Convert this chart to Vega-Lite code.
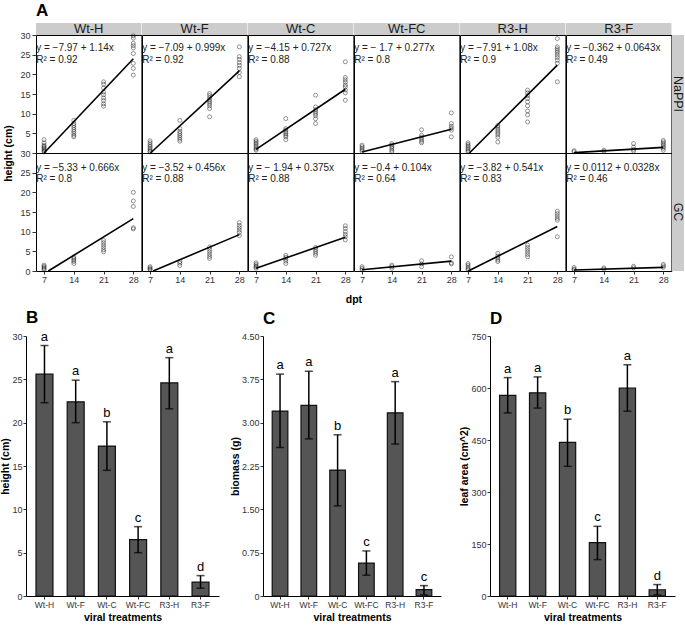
{
"$schema":"https://vega.github.io/schema/vega-lite/v6.json",
"padding":{"left":0,"top":2,"right":1,"bottom":1},
"config":{"font":"Liberation Sans","view":{"stroke":"#000","strokeWidth":1},
"axis":{"grid":false,"labelFont":"Liberation Sans","titleFont":"Liberation Sans","labelFontSize":9,"labelColor":"#333","tickColor":"#333","tickSize":3,"labelPadding":1,"domainColor":"#000","titleFontWeight":"bold","titleFontSize":10.5,"titleColor":"#000","titlePadding":1},
"title":{"font":"Liberation Sans","fontSize":17,"fontWeight":"bold","anchor":"start","frame":"group","color":"#000"}},
"datasets":{
"pts":[
{"t":"Wt-H","c":"NaPPI","d":7,"h":3.4},{"t":"Wt-H","c":"NaPPI","d":7,"h":2.6},{"t":"Wt-H","c":"NaPPI","d":7,"h":2.0},{"t":"Wt-H","c":"NaPPI","d":7,"h":1.7},{"t":"Wt-H","c":"NaPPI","d":7,"h":1.4},{"t":"Wt-H","c":"NaPPI","d":7,"h":1.1},{"t":"Wt-H","c":"NaPPI","d":7,"h":0.8},{"t":"Wt-H","c":"NaPPI","d":7,"h":0.5},{"t":"Wt-H","c":"NaPPI","d":7,"h":0.3},
{"t":"Wt-H","c":"NaPPI","d":14,"h":8.3},{"t":"Wt-H","c":"NaPPI","d":14,"h":7.5},{"t":"Wt-H","c":"NaPPI","d":14,"h":7.0},{"t":"Wt-H","c":"NaPPI","d":14,"h":6.5},{"t":"Wt-H","c":"NaPPI","d":14,"h":6.0},{"t":"Wt-H","c":"NaPPI","d":14,"h":5.5},{"t":"Wt-H","c":"NaPPI","d":14,"h":5.0},{"t":"Wt-H","c":"NaPPI","d":14,"h":4.5},{"t":"Wt-H","c":"NaPPI","d":14,"h":4.1},
{"t":"Wt-H","c":"NaPPI","d":21,"h":18.1},{"t":"Wt-H","c":"NaPPI","d":21,"h":17.5},{"t":"Wt-H","c":"NaPPI","d":21,"h":16.5},{"t":"Wt-H","c":"NaPPI","d":21,"h":15.5},{"t":"Wt-H","c":"NaPPI","d":21,"h":14.8},{"t":"Wt-H","c":"NaPPI","d":21,"h":14.0},{"t":"Wt-H","c":"NaPPI","d":21,"h":13.3},{"t":"Wt-H","c":"NaPPI","d":21,"h":12.5},{"t":"Wt-H","c":"NaPPI","d":21,"h":11.9},
{"t":"Wt-H","c":"NaPPI","d":28,"h":29.8},{"t":"Wt-H","c":"NaPPI","d":28,"h":29.2},{"t":"Wt-H","c":"NaPPI","d":28,"h":27.9},{"t":"Wt-H","c":"NaPPI","d":28,"h":27.3},{"t":"Wt-H","c":"NaPPI","d":28,"h":26.7},{"t":"Wt-H","c":"NaPPI","d":28,"h":25.3},{"t":"Wt-H","c":"NaPPI","d":28,"h":22.8},{"t":"Wt-H","c":"NaPPI","d":28,"h":21.5},{"t":"Wt-H","c":"NaPPI","d":28,"h":19.8},
{"t":"Wt-F","c":"NaPPI","d":7,"h":3.1},{"t":"Wt-F","c":"NaPPI","d":7,"h":2.6},{"t":"Wt-F","c":"NaPPI","d":7,"h":2.1},{"t":"Wt-F","c":"NaPPI","d":7,"h":1.7},{"t":"Wt-F","c":"NaPPI","d":7,"h":1.3},{"t":"Wt-F","c":"NaPPI","d":7,"h":0.9},{"t":"Wt-F","c":"NaPPI","d":7,"h":0.5},{"t":"Wt-F","c":"NaPPI","d":7,"h":0.3},
{"t":"Wt-F","c":"NaPPI","d":14,"h":8.3},{"t":"Wt-F","c":"NaPPI","d":14,"h":6.2},{"t":"Wt-F","c":"NaPPI","d":14,"h":5.5},{"t":"Wt-F","c":"NaPPI","d":14,"h":5.0},{"t":"Wt-F","c":"NaPPI","d":14,"h":4.5},{"t":"Wt-F","c":"NaPPI","d":14,"h":4.0},{"t":"Wt-F","c":"NaPPI","d":14,"h":3.5},{"t":"Wt-F","c":"NaPPI","d":14,"h":3.0},
{"t":"Wt-F","c":"NaPPI","d":21,"h":15.1},{"t":"Wt-F","c":"NaPPI","d":21,"h":14.6},{"t":"Wt-F","c":"NaPPI","d":21,"h":14.0},{"t":"Wt-F","c":"NaPPI","d":21,"h":13.5},{"t":"Wt-F","c":"NaPPI","d":21,"h":13.0},{"t":"Wt-F","c":"NaPPI","d":21,"h":12.5},{"t":"Wt-F","c":"NaPPI","d":21,"h":12.0},{"t":"Wt-F","c":"NaPPI","d":21,"h":11.3},{"t":"Wt-F","c":"NaPPI","d":21,"h":9.2},
{"t":"Wt-F","c":"NaPPI","d":28,"h":27.0},{"t":"Wt-F","c":"NaPPI","d":28,"h":24.5},{"t":"Wt-F","c":"NaPPI","d":28,"h":23.8},{"t":"Wt-F","c":"NaPPI","d":28,"h":23.0},{"t":"Wt-F","c":"NaPPI","d":28,"h":22.3},{"t":"Wt-F","c":"NaPPI","d":28,"h":21.5},{"t":"Wt-F","c":"NaPPI","d":28,"h":20.5},{"t":"Wt-F","c":"NaPPI","d":28,"h":19.4},
{"t":"Wt-C","c":"NaPPI","d":7,"h":3.4},{"t":"Wt-C","c":"NaPPI","d":7,"h":3.0},{"t":"Wt-C","c":"NaPPI","d":7,"h":2.6},{"t":"Wt-C","c":"NaPPI","d":7,"h":2.2},{"t":"Wt-C","c":"NaPPI","d":7,"h":1.8},{"t":"Wt-C","c":"NaPPI","d":7,"h":1.4},{"t":"Wt-C","c":"NaPPI","d":7,"h":1.0},{"t":"Wt-C","c":"NaPPI","d":7,"h":0.7},
{"t":"Wt-C","c":"NaPPI","d":14,"h":8.75},{"t":"Wt-C","c":"NaPPI","d":14,"h":6.2},{"t":"Wt-C","c":"NaPPI","d":14,"h":5.8},{"t":"Wt-C","c":"NaPPI","d":14,"h":5.3},{"t":"Wt-C","c":"NaPPI","d":14,"h":4.9},{"t":"Wt-C","c":"NaPPI","d":14,"h":4.5},{"t":"Wt-C","c":"NaPPI","d":14,"h":4.1},{"t":"Wt-C","c":"NaPPI","d":14,"h":3.4},
{"t":"Wt-C","c":"NaPPI","d":21,"h":14.7},{"t":"Wt-C","c":"NaPPI","d":21,"h":11.7},{"t":"Wt-C","c":"NaPPI","d":21,"h":11.0},{"t":"Wt-C","c":"NaPPI","d":21,"h":10.5},{"t":"Wt-C","c":"NaPPI","d":21,"h":10.0},{"t":"Wt-C","c":"NaPPI","d":21,"h":9.5},{"t":"Wt-C","c":"NaPPI","d":21,"h":8.7},{"t":"Wt-C","c":"NaPPI","d":21,"h":7.5},
{"t":"Wt-C","c":"NaPPI","d":28,"h":23.2},{"t":"Wt-C","c":"NaPPI","d":28,"h":19.2},{"t":"Wt-C","c":"NaPPI","d":28,"h":18.6},{"t":"Wt-C","c":"NaPPI","d":28,"h":18.0},{"t":"Wt-C","c":"NaPPI","d":28,"h":17.3},{"t":"Wt-C","c":"NaPPI","d":28,"h":16.8},{"t":"Wt-C","c":"NaPPI","d":28,"h":16.0},{"t":"Wt-C","c":"NaPPI","d":28,"h":15.3},{"t":"Wt-C","c":"NaPPI","d":28,"h":13.4},
{"t":"Wt-FC","c":"NaPPI","d":7,"h":2.0},{"t":"Wt-FC","c":"NaPPI","d":7,"h":1.6},{"t":"Wt-FC","c":"NaPPI","d":7,"h":1.2},{"t":"Wt-FC","c":"NaPPI","d":7,"h":0.8},{"t":"Wt-FC","c":"NaPPI","d":7,"h":0.4},
{"t":"Wt-FC","c":"NaPPI","d":14,"h":2.4},{"t":"Wt-FC","c":"NaPPI","d":14,"h":2.0},{"t":"Wt-FC","c":"NaPPI","d":14,"h":1.6},{"t":"Wt-FC","c":"NaPPI","d":14,"h":1.2},{"t":"Wt-FC","c":"NaPPI","d":14,"h":0.7},{"t":"Wt-FC","c":"NaPPI","d":14,"h":0.3},
{"t":"Wt-FC","c":"NaPPI","d":21,"h":5.9},{"t":"Wt-FC","c":"NaPPI","d":21,"h":4.5},{"t":"Wt-FC","c":"NaPPI","d":21,"h":4.0},{"t":"Wt-FC","c":"NaPPI","d":21,"h":3.5},{"t":"Wt-FC","c":"NaPPI","d":21,"h":3.0},{"t":"Wt-FC","c":"NaPPI","d":21,"h":2.6},
{"t":"Wt-FC","c":"NaPPI","d":28,"h":10.2},{"t":"Wt-FC","c":"NaPPI","d":28,"h":7.5},{"t":"Wt-FC","c":"NaPPI","d":28,"h":6.8},{"t":"Wt-FC","c":"NaPPI","d":28,"h":6.3},{"t":"Wt-FC","c":"NaPPI","d":28,"h":5.8},{"t":"Wt-FC","c":"NaPPI","d":28,"h":4.1},
{"t":"R3-H","c":"NaPPI","d":7,"h":2.6},{"t":"R3-H","c":"NaPPI","d":7,"h":2.2},{"t":"R3-H","c":"NaPPI","d":7,"h":1.8},{"t":"R3-H","c":"NaPPI","d":7,"h":1.4},{"t":"R3-H","c":"NaPPI","d":7,"h":1.0},{"t":"R3-H","c":"NaPPI","d":7,"h":0.6},{"t":"R3-H","c":"NaPPI","d":7,"h":0.3},
{"t":"R3-H","c":"NaPPI","d":14,"h":7.0},{"t":"R3-H","c":"NaPPI","d":14,"h":6.6},{"t":"R3-H","c":"NaPPI","d":14,"h":6.1},{"t":"R3-H","c":"NaPPI","d":14,"h":5.6},{"t":"R3-H","c":"NaPPI","d":14,"h":5.1},{"t":"R3-H","c":"NaPPI","d":14,"h":4.6},{"t":"R3-H","c":"NaPPI","d":14,"h":4.0},{"t":"R3-H","c":"NaPPI","d":14,"h":2.8},
{"t":"R3-H","c":"NaPPI","d":21,"h":16.0},{"t":"R3-H","c":"NaPPI","d":21,"h":15.3},{"t":"R3-H","c":"NaPPI","d":21,"h":14.6},{"t":"R3-H","c":"NaPPI","d":21,"h":13.9},{"t":"R3-H","c":"NaPPI","d":21,"h":13.0},{"t":"R3-H","c":"NaPPI","d":21,"h":12.0},{"t":"R3-H","c":"NaPPI","d":21,"h":10.7},{"t":"R3-H","c":"NaPPI","d":21,"h":9.7},{"t":"R3-H","c":"NaPPI","d":21,"h":7.9},
{"t":"R3-H","c":"NaPPI","d":28,"h":29.1},{"t":"R3-H","c":"NaPPI","d":28,"h":27.0},{"t":"R3-H","c":"NaPPI","d":28,"h":26.5},{"t":"R3-H","c":"NaPPI","d":28,"h":26.0},{"t":"R3-H","c":"NaPPI","d":28,"h":25.5},{"t":"R3-H","c":"NaPPI","d":28,"h":24.9},{"t":"R3-H","c":"NaPPI","d":28,"h":24.3},{"t":"R3-H","c":"NaPPI","d":28,"h":23.6},{"t":"R3-H","c":"NaPPI","d":28,"h":22.8},{"t":"R3-H","c":"NaPPI","d":28,"h":18.1},
{"t":"R3-F","c":"NaPPI","d":7,"h":0.6},{"t":"R3-F","c":"NaPPI","d":7,"h":0.3},
{"t":"R3-F","c":"NaPPI","d":14,"h":0.7},{"t":"R3-F","c":"NaPPI","d":14,"h":0.4},
{"t":"R3-F","c":"NaPPI","d":21,"h":2.4},{"t":"R3-F","c":"NaPPI","d":21,"h":1.5},{"t":"R3-F","c":"NaPPI","d":21,"h":0.9},{"t":"R3-F","c":"NaPPI","d":21,"h":0.5},
{"t":"R3-F","c":"NaPPI","d":28,"h":3.2},{"t":"R3-F","c":"NaPPI","d":28,"h":2.8},{"t":"R3-F","c":"NaPPI","d":28,"h":2.4},{"t":"R3-F","c":"NaPPI","d":28,"h":2.0},{"t":"R3-F","c":"NaPPI","d":28,"h":1.6},{"t":"R3-F","c":"NaPPI","d":28,"h":1.2},{"t":"R3-F","c":"NaPPI","d":28,"h":0.7},
{"t":"Wt-H","c":"GC","d":7,"h":1.5},{"t":"Wt-H","c":"GC","d":7,"h":1.2},{"t":"Wt-H","c":"GC","d":7,"h":0.9},{"t":"Wt-H","c":"GC","d":7,"h":0.6},{"t":"Wt-H","c":"GC","d":7,"h":0.3},
{"t":"Wt-H","c":"GC","d":14,"h":3.6},{"t":"Wt-H","c":"GC","d":14,"h":3.2},{"t":"Wt-H","c":"GC","d":14,"h":2.8},{"t":"Wt-H","c":"GC","d":14,"h":2.4},{"t":"Wt-H","c":"GC","d":14,"h":1.9},
{"t":"Wt-H","c":"GC","d":21,"h":7.8},{"t":"Wt-H","c":"GC","d":21,"h":7.2},{"t":"Wt-H","c":"GC","d":21,"h":6.6},{"t":"Wt-H","c":"GC","d":21,"h":6.0},{"t":"Wt-H","c":"GC","d":21,"h":5.4},{"t":"Wt-H","c":"GC","d":21,"h":4.9},
{"t":"Wt-H","c":"GC","d":28,"h":20.0},{"t":"Wt-H","c":"GC","d":28,"h":17.8},{"t":"Wt-H","c":"GC","d":28,"h":16.4},{"t":"Wt-H","c":"GC","d":28,"h":11.0},{"t":"Wt-H","c":"GC","d":28,"h":10.7},
{"t":"Wt-F","c":"GC","d":7,"h":1.1},{"t":"Wt-F","c":"GC","d":7,"h":0.8},{"t":"Wt-F","c":"GC","d":7,"h":0.5},{"t":"Wt-F","c":"GC","d":7,"h":0.3},
{"t":"Wt-F","c":"GC","d":14,"h":2.4},{"t":"Wt-F","c":"GC","d":14,"h":2.0},{"t":"Wt-F","c":"GC","d":14,"h":1.4},
{"t":"Wt-F","c":"GC","d":21,"h":6.1},{"t":"Wt-F","c":"GC","d":21,"h":5.5},{"t":"Wt-F","c":"GC","d":21,"h":4.9},{"t":"Wt-F","c":"GC","d":21,"h":4.3},{"t":"Wt-F","c":"GC","d":21,"h":3.7},{"t":"Wt-F","c":"GC","d":21,"h":3.2},
{"t":"Wt-F","c":"GC","d":28,"h":12.3},{"t":"Wt-F","c":"GC","d":28,"h":11.6},{"t":"Wt-F","c":"GC","d":28,"h":11.0},{"t":"Wt-F","c":"GC","d":28,"h":10.4},{"t":"Wt-F","c":"GC","d":28,"h":9.8},{"t":"Wt-F","c":"GC","d":28,"h":9.0},
{"t":"Wt-C","c":"GC","d":7,"h":2.1},{"t":"Wt-C","c":"GC","d":7,"h":1.7},{"t":"Wt-C","c":"GC","d":7,"h":1.3},{"t":"Wt-C","c":"GC","d":7,"h":1.0},{"t":"Wt-C","c":"GC","d":7,"h":0.7},
{"t":"Wt-C","c":"GC","d":14,"h":4.0},{"t":"Wt-C","c":"GC","d":14,"h":3.5},{"t":"Wt-C","c":"GC","d":14,"h":3.0},{"t":"Wt-C","c":"GC","d":14,"h":2.5},{"t":"Wt-C","c":"GC","d":14,"h":1.9},
{"t":"Wt-C","c":"GC","d":21,"h":6.0},{"t":"Wt-C","c":"GC","d":21,"h":5.5},{"t":"Wt-C","c":"GC","d":21,"h":5.0},{"t":"Wt-C","c":"GC","d":21,"h":4.5},{"t":"Wt-C","c":"GC","d":21,"h":4.0},
{"t":"Wt-C","c":"GC","d":28,"h":11.5},{"t":"Wt-C","c":"GC","d":28,"h":10.8},{"t":"Wt-C","c":"GC","d":28,"h":10.0},{"t":"Wt-C","c":"GC","d":28,"h":9.3},{"t":"Wt-C","c":"GC","d":28,"h":8.7},{"t":"Wt-C","c":"GC","d":28,"h":7.9},
{"t":"Wt-FC","c":"GC","d":7,"h":1.1},{"t":"Wt-FC","c":"GC","d":7,"h":0.7},{"t":"Wt-FC","c":"GC","d":7,"h":0.3},
{"t":"Wt-FC","c":"GC","d":14,"h":1.5},{"t":"Wt-FC","c":"GC","d":14,"h":1.1},{"t":"Wt-FC","c":"GC","d":14,"h":0.7},
{"t":"Wt-FC","c":"GC","d":21,"h":2.6},{"t":"Wt-FC","c":"GC","d":21,"h":1.8},{"t":"Wt-FC","c":"GC","d":21,"h":1.1},
{"t":"Wt-FC","c":"GC","d":28,"h":3.6},{"t":"Wt-FC","c":"GC","d":28,"h":2.1},{"t":"Wt-FC","c":"GC","d":28,"h":1.8},
{"t":"R3-H","c":"GC","d":7,"h":1.9},{"t":"R3-H","c":"GC","d":7,"h":1.5},{"t":"R3-H","c":"GC","d":7,"h":1.0},{"t":"R3-H","c":"GC","d":7,"h":0.6},{"t":"R3-H","c":"GC","d":7,"h":0.3},
{"t":"R3-H","c":"GC","d":14,"h":4.5},{"t":"R3-H","c":"GC","d":14,"h":3.8},{"t":"R3-H","c":"GC","d":14,"h":3.3},{"t":"R3-H","c":"GC","d":14,"h":2.8},{"t":"R3-H","c":"GC","d":14,"h":2.4},
{"t":"R3-H","c":"GC","d":21,"h":6.6},{"t":"R3-H","c":"GC","d":21,"h":6.0},{"t":"R3-H","c":"GC","d":21,"h":5.4},{"t":"R3-H","c":"GC","d":21,"h":4.8},{"t":"R3-H","c":"GC","d":21,"h":4.2},{"t":"R3-H","c":"GC","d":21,"h":3.6},
{"t":"R3-H","c":"GC","d":28,"h":15.2},{"t":"R3-H","c":"GC","d":28,"h":14.6},{"t":"R3-H","c":"GC","d":28,"h":14.0},{"t":"R3-H","c":"GC","d":28,"h":13.4},{"t":"R3-H","c":"GC","d":28,"h":12.9},{"t":"R3-H","c":"GC","d":28,"h":8.7},
{"t":"R3-F","c":"GC","d":7,"h":0.9},{"t":"R3-F","c":"GC","d":7,"h":0.5},{"t":"R3-F","c":"GC","d":7,"h":0.3},
{"t":"R3-F","c":"GC","d":14,"h":0.8},{"t":"R3-F","c":"GC","d":14,"h":0.5},
{"t":"R3-F","c":"GC","d":21,"h":1.2},{"t":"R3-F","c":"GC","d":21,"h":0.8},
{"t":"R3-F","c":"GC","d":28,"h":1.7},{"t":"R3-F","c":"GC","d":28,"h":1.3},{"t":"R3-F","c":"GC","d":28,"h":0.9}
],
"fit":[
{"t":"Wt-H","c":"NaPPI","d":7,"h":0.01},{"t":"Wt-H","c":"NaPPI","d":28,"h":23.95},
{"t":"Wt-F","c":"NaPPI","d":7.1,"h":0},{"t":"Wt-F","c":"NaPPI","d":28,"h":20.88},
{"t":"Wt-C","c":"NaPPI","d":7,"h":0.94},{"t":"Wt-C","c":"NaPPI","d":28,"h":16.21},
{"t":"Wt-FC","c":"NaPPI","d":7,"h":0.24},{"t":"Wt-FC","c":"NaPPI","d":28,"h":6.06},
{"t":"R3-H","c":"NaPPI","d":7.32,"h":0},{"t":"R3-H","c":"NaPPI","d":28,"h":22.33},
{"t":"R3-F","c":"NaPPI","d":7,"h":0.09},{"t":"R3-F","c":"NaPPI","d":28,"h":1.44},
{"t":"Wt-H","c":"GC","d":8.0,"h":0},{"t":"Wt-H","c":"GC","d":28,"h":13.32},
{"t":"Wt-F","c":"GC","d":7.72,"h":0},{"t":"Wt-F","c":"GC","d":28,"h":9.25},
{"t":"Wt-C","c":"GC","d":7,"h":0.69},{"t":"Wt-C","c":"GC","d":28,"h":8.56},
{"t":"Wt-FC","c":"GC","d":7,"h":0.33},{"t":"Wt-FC","c":"GC","d":28,"h":2.51},
{"t":"R3-H","c":"GC","d":7.06,"h":0},{"t":"R3-H","c":"GC","d":28,"h":11.33},
{"t":"R3-F","c":"GC","d":7,"h":0.24},{"t":"R3-F","c":"GC","d":28,"h":0.93}
],
"eqs":[
{"t":"Wt-H","c":"NaPPI","lab":"y = −7.97 + 1.14x\nR² = 0.92"},
{"t":"Wt-F","c":"NaPPI","lab":"y = −7.09 + 0.999x\nR² = 0.92"},
{"t":"Wt-C","c":"NaPPI","lab":"y = −4.15 + 0.727x\nR² = 0.88"},
{"t":"Wt-FC","c":"NaPPI","lab":"y = − 1.7 + 0.277x\nR² = 0.8"},
{"t":"R3-H","c":"NaPPI","lab":"y = −7.91 + 1.08x\nR² = 0.9"},
{"t":"R3-F","c":"NaPPI","lab":"y = −0.362 + 0.0643x\nR² = 0.49"},
{"t":"Wt-H","c":"GC","lab":"y = −5.33 + 0.666x\nR² = 0.8"},
{"t":"Wt-F","c":"GC","lab":"y = −3.52 + 0.456x\nR² = 0.88"},
{"t":"Wt-C","c":"GC","lab":"y = − 1.94 + 0.375x\nR² = 0.88"},
{"t":"Wt-FC","c":"GC","lab":"y = −0.4 + 0.104x\nR² = 0.64"},
{"t":"R3-H","c":"GC","lab":"y = −3.82 + 0.541x\nR² = 0.83"},
{"t":"R3-F","c":"GC","lab":"y = 0.0112 + 0.0328x\nR² = 0.46"}
],
"bars":[
{"m":"height","t":"Wt-H","v":25.6,"lo":22.3,"hi":28.9,"g":"a"},
{"m":"height","t":"Wt-F","v":22.4,"lo":20.0,"hi":24.9,"g":"a"},
{"m":"height","t":"Wt-C","v":17.3,"lo":14.5,"hi":20.1,"g":"b"},
{"m":"height","t":"Wt-FC","v":6.5,"lo":5.0,"hi":8.0,"g":"c"},
{"m":"height","t":"R3-H","v":24.6,"lo":21.6,"hi":27.5,"g":"a"},
{"m":"height","t":"R3-F","v":1.6,"lo":0.9,"hi":2.35,"g":"d"},
{"m":"biomass","t":"Wt-H","v":3.20,"lo":2.57,"hi":3.84,"g":"a"},
{"m":"biomass","t":"Wt-F","v":3.30,"lo":2.72,"hi":3.89,"g":"a"},
{"m":"biomass","t":"Wt-C","v":2.18,"lo":1.56,"hi":2.79,"g":"b"},
{"m":"biomass","t":"Wt-FC","v":0.57,"lo":0.36,"hi":0.78,"g":"c"},
{"m":"biomass","t":"R3-H","v":3.17,"lo":2.63,"hi":3.71,"g":"a"},
{"m":"biomass","t":"R3-F","v":0.11,"lo":0.02,"hi":0.18,"g":"c"},
{"m":"leaf","t":"Wt-H","v":579,"lo":528,"hi":630,"g":"a"},
{"m":"leaf","t":"Wt-F","v":586,"lo":542,"hi":632,"g":"a"},
{"m":"leaf","t":"Wt-C","v":443,"lo":374,"hi":510,"g":"b"},
{"m":"leaf","t":"Wt-FC","v":154,"lo":105,"hi":201,"g":"c"},
{"m":"leaf","t":"R3-H","v":600,"lo":533,"hi":667,"g":"a"},
{"m":"leaf","t":"R3-F","v":18,"lo":3,"hi":33,"g":"d"}
]
},
"vconcat":[
{
"title":{"text":"A","offset":3,"dx":10},
"columns":8,"spacing":0,"bounds":"flush","align":"each",
"concat":[
{"width":10,"height":12,"view":{"stroke":null},"data":{"values":[{"t":""}]},"mark":{"type":"text"},"encoding":{"text":{"field":"t"}}},
{"width":105.4,"height":12,"view":{"fill":"#cccccc","stroke":null},"data":{"values":[{"t":"Wt-H"}]},"mark":{"type":"text","fontSize":13,"color":"#1a1a1a","baseline":"middle"},"encoding":{"text":{"field":"t"}}},
{"width":105.4,"height":12,"view":{"fill":"#cccccc","stroke":null},"data":{"values":[{"t":"Wt-F"}]},"mark":{"type":"text","fontSize":13,"color":"#1a1a1a","baseline":"middle"},"encoding":{"text":{"field":"t"}}},
{"width":105.4,"height":12,"view":{"fill":"#cccccc","stroke":null},"data":{"values":[{"t":"Wt-C"}]},"mark":{"type":"text","fontSize":13,"color":"#1a1a1a","baseline":"middle"},"encoding":{"text":{"field":"t"}}},
{"width":105.4,"height":12,"view":{"fill":"#cccccc","stroke":null},"data":{"values":[{"t":"Wt-FC"}]},"mark":{"type":"text","fontSize":13,"color":"#1a1a1a","baseline":"middle"},"encoding":{"text":{"field":"t"}}},
{"width":105.4,"height":12,"view":{"fill":"#cccccc","stroke":null},"data":{"values":[{"t":"R3-H"}]},"mark":{"type":"text","fontSize":13,"color":"#1a1a1a","baseline":"middle"},"encoding":{"text":{"field":"t"}}},
{"width":105.4,"height":12,"view":{"fill":"#cccccc","stroke":null},"data":{"values":[{"t":"R3-F"}]},"mark":{"type":"text","fontSize":13,"color":"#1a1a1a","baseline":"middle"},"encoding":{"text":{"field":"t"}}},
{"width":12,"height":12,"view":{"stroke":null},"data":{"values":[{"t":""}]},"mark":{"type":"text"},"encoding":{"text":{"field":"t"}}},

{"width":10,"height":118,"view":{"stroke":null},"data":{"values":[{"t":""}]},"mark":{"type":"text"},"encoding":{"text":{"field":"t"}}},
{"width":105.4,"height":118,
"layer":[
{"data":{"name":"pts"},"transform":[{"filter":"datum.t=='Wt-H'&&datum.c=='NaPPI'"}],"mark":{"type":"point","size":16,"color":"#000","strokeWidth":0.6},
"encoding":{"x":{"field":"d","type":"quantitative","scale":{"domain":[5.1,29.9],"nice":false,"zero":false},"axis":null},"y":{"field":"h","type":"quantitative","scale":{"domain":[0,30],"nice":false},"axis":{"values":[5,10,15,20,25,30],"domain":false,"title":"height (cm)","titleY":118,"tickSize":4,"labelPadding":2,"titlePadding":6}}}},
{"data":{"name":"fit"},"transform":[{"filter":"datum.t=='Wt-H'&&datum.c=='NaPPI'"}],"mark":{"type":"line","color":"#000","strokeWidth":1.6},
"encoding":{"x":{"field":"d","type":"quantitative","axis":null},"y":{"field":"h","type":"quantitative","axis":{"values":[5,10,15,20,25,30],"domain":false,"title":"height (cm)","titleY":118,"tickSize":4,"labelPadding":2,"titlePadding":6}}}},
{"data":{"name":"eqs"},"transform":[{"filter":"datum.t=='Wt-H'&&datum.c=='NaPPI'"}],"mark":{"type":"text","align":"left","baseline":"top","lineBreak":"\n","fontSize":10,"lineHeight":11.5,"color":"#222"},
"encoding":{"x":{"datum":5.15,"type":"quantitative","axis":null},"y":{"datum":27.9,"type":"quantitative","axis":{"values":[5,10,15,20,25,30],"domain":false,"title":"height (cm)","titleY":118,"tickSize":4,"labelPadding":2,"titlePadding":6}},"text":{"field":"lab","type":"nominal"}}}]},
{"width":105.4,"height":118,
"layer":[
{"data":{"name":"pts"},"transform":[{"filter":"datum.t=='Wt-F'&&datum.c=='NaPPI'"}],"mark":{"type":"point","size":16,"color":"#000","strokeWidth":0.6},
"encoding":{"x":{"field":"d","type":"quantitative","scale":{"domain":[5.1,29.9],"nice":false,"zero":false},"axis":null},"y":{"field":"h","type":"quantitative","scale":{"domain":[0,30],"nice":false},"axis":null}}},
{"data":{"name":"fit"},"transform":[{"filter":"datum.t=='Wt-F'&&datum.c=='NaPPI'"}],"mark":{"type":"line","color":"#000","strokeWidth":1.6},
"encoding":{"x":{"field":"d","type":"quantitative","axis":null},"y":{"field":"h","type":"quantitative","axis":null}}},
{"data":{"name":"eqs"},"transform":[{"filter":"datum.t=='Wt-F'&&datum.c=='NaPPI'"}],"mark":{"type":"text","align":"left","baseline":"top","lineBreak":"\n","fontSize":10,"lineHeight":11.5,"color":"#222"},
"encoding":{"x":{"datum":5.15,"type":"quantitative","axis":null},"y":{"datum":27.9,"type":"quantitative","axis":null},"text":{"field":"lab","type":"nominal"}}}]},
{"width":105.4,"height":118,
"layer":[
{"data":{"name":"pts"},"transform":[{"filter":"datum.t=='Wt-C'&&datum.c=='NaPPI'"}],"mark":{"type":"point","size":16,"color":"#000","strokeWidth":0.6},
"encoding":{"x":{"field":"d","type":"quantitative","scale":{"domain":[5.1,29.9],"nice":false,"zero":false},"axis":null},"y":{"field":"h","type":"quantitative","scale":{"domain":[0,30],"nice":false},"axis":null}}},
{"data":{"name":"fit"},"transform":[{"filter":"datum.t=='Wt-C'&&datum.c=='NaPPI'"}],"mark":{"type":"line","color":"#000","strokeWidth":1.6},
"encoding":{"x":{"field":"d","type":"quantitative","axis":null},"y":{"field":"h","type":"quantitative","axis":null}}},
{"data":{"name":"eqs"},"transform":[{"filter":"datum.t=='Wt-C'&&datum.c=='NaPPI'"}],"mark":{"type":"text","align":"left","baseline":"top","lineBreak":"\n","fontSize":10,"lineHeight":11.5,"color":"#222"},
"encoding":{"x":{"datum":5.15,"type":"quantitative","axis":null},"y":{"datum":27.9,"type":"quantitative","axis":null},"text":{"field":"lab","type":"nominal"}}}]},
{"width":105.4,"height":118,
"layer":[
{"data":{"name":"pts"},"transform":[{"filter":"datum.t=='Wt-FC'&&datum.c=='NaPPI'"}],"mark":{"type":"point","size":16,"color":"#000","strokeWidth":0.6},
"encoding":{"x":{"field":"d","type":"quantitative","scale":{"domain":[5.1,29.9],"nice":false,"zero":false},"axis":null},"y":{"field":"h","type":"quantitative","scale":{"domain":[0,30],"nice":false},"axis":null}}},
{"data":{"name":"fit"},"transform":[{"filter":"datum.t=='Wt-FC'&&datum.c=='NaPPI'"}],"mark":{"type":"line","color":"#000","strokeWidth":1.6},
"encoding":{"x":{"field":"d","type":"quantitative","axis":null},"y":{"field":"h","type":"quantitative","axis":null}}},
{"data":{"name":"eqs"},"transform":[{"filter":"datum.t=='Wt-FC'&&datum.c=='NaPPI'"}],"mark":{"type":"text","align":"left","baseline":"top","lineBreak":"\n","fontSize":10,"lineHeight":11.5,"color":"#222"},
"encoding":{"x":{"datum":5.15,"type":"quantitative","axis":null},"y":{"datum":27.9,"type":"quantitative","axis":null},"text":{"field":"lab","type":"nominal"}}}]},
{"width":105.4,"height":118,
"layer":[
{"data":{"name":"pts"},"transform":[{"filter":"datum.t=='R3-H'&&datum.c=='NaPPI'"}],"mark":{"type":"point","size":16,"color":"#000","strokeWidth":0.6},
"encoding":{"x":{"field":"d","type":"quantitative","scale":{"domain":[5.1,29.9],"nice":false,"zero":false},"axis":null},"y":{"field":"h","type":"quantitative","scale":{"domain":[0,30],"nice":false},"axis":null}}},
{"data":{"name":"fit"},"transform":[{"filter":"datum.t=='R3-H'&&datum.c=='NaPPI'"}],"mark":{"type":"line","color":"#000","strokeWidth":1.6},
"encoding":{"x":{"field":"d","type":"quantitative","axis":null},"y":{"field":"h","type":"quantitative","axis":null}}},
{"data":{"name":"eqs"},"transform":[{"filter":"datum.t=='R3-H'&&datum.c=='NaPPI'"}],"mark":{"type":"text","align":"left","baseline":"top","lineBreak":"\n","fontSize":10,"lineHeight":11.5,"color":"#222"},
"encoding":{"x":{"datum":5.15,"type":"quantitative","axis":null},"y":{"datum":27.9,"type":"quantitative","axis":null},"text":{"field":"lab","type":"nominal"}}}]},
{"width":105.4,"height":118,
"layer":[
{"data":{"name":"pts"},"transform":[{"filter":"datum.t=='R3-F'&&datum.c=='NaPPI'"}],"mark":{"type":"point","size":16,"color":"#000","strokeWidth":0.6},
"encoding":{"x":{"field":"d","type":"quantitative","scale":{"domain":[5.1,29.9],"nice":false,"zero":false},"axis":null},"y":{"field":"h","type":"quantitative","scale":{"domain":[0,30],"nice":false},"axis":null}}},
{"data":{"name":"fit"},"transform":[{"filter":"datum.t=='R3-F'&&datum.c=='NaPPI'"}],"mark":{"type":"line","color":"#000","strokeWidth":1.6},
"encoding":{"x":{"field":"d","type":"quantitative","axis":null},"y":{"field":"h","type":"quantitative","axis":null}}},
{"data":{"name":"eqs"},"transform":[{"filter":"datum.t=='R3-F'&&datum.c=='NaPPI'"}],"mark":{"type":"text","align":"left","baseline":"top","lineBreak":"\n","fontSize":10,"lineHeight":11.5,"color":"#222"},
"encoding":{"x":{"datum":5.15,"type":"quantitative","axis":null},"y":{"datum":27.9,"type":"quantitative","axis":null},"text":{"field":"lab","type":"nominal"}}}]},
{"width":12,"height":118,"view":{"fill":"#cccccc","stroke":null},"data":{"values":[{"c":"NaPPI"}]},"mark":{"type":"text","fontSize":12.5,"angle":90,"color":"#1a1a1a","baseline":"middle"},"encoding":{"text":{"field":"c"}}},

{"width":10,"height":118,"view":{"stroke":null},"data":{"values":[{"t":""}]},"mark":{"type":"text"},"encoding":{"text":{"field":"t"}}},
{"width":105.4,"height":118,
"layer":[
{"data":{"name":"pts"},"transform":[{"filter":"datum.t=='Wt-H'&&datum.c=='GC'"}],"mark":{"type":"point","size":16,"color":"#000","strokeWidth":0.6},
"encoding":{"x":{"field":"d","type":"quantitative","scale":{"domain":[5.1,29.9],"nice":false,"zero":false},"axis":{"values":[7,14,21,28],"domain":false,"title":null}},"y":{"field":"h","type":"quantitative","scale":{"domain":[0,30],"nice":false},"axis":{"values":[0,5,10,15,20,25,30],"domain":false,"title":null,"tickSize":4,"labelPadding":2}}}},
{"data":{"name":"fit"},"transform":[{"filter":"datum.t=='Wt-H'&&datum.c=='GC'"}],"mark":{"type":"line","color":"#000","strokeWidth":1.6},
"encoding":{"x":{"field":"d","type":"quantitative","axis":{"values":[7,14,21,28],"domain":false,"title":null}},"y":{"field":"h","type":"quantitative","axis":{"values":[0,5,10,15,20,25,30],"domain":false,"title":null,"tickSize":4,"labelPadding":2}}}},
{"data":{"name":"eqs"},"transform":[{"filter":"datum.t=='Wt-H'&&datum.c=='GC'"}],"mark":{"type":"text","align":"left","baseline":"top","lineBreak":"\n","fontSize":10,"lineHeight":11.5,"color":"#222"},
"encoding":{"x":{"datum":5.15,"type":"quantitative","axis":{"values":[7,14,21,28],"domain":false,"title":null}},"y":{"datum":27.5,"type":"quantitative","axis":{"values":[0,5,10,15,20,25,30],"domain":false,"title":null,"tickSize":4,"labelPadding":2}},"text":{"field":"lab","type":"nominal"}}}]},
{"width":105.4,"height":118,
"layer":[
{"data":{"name":"pts"},"transform":[{"filter":"datum.t=='Wt-F'&&datum.c=='GC'"}],"mark":{"type":"point","size":16,"color":"#000","strokeWidth":0.6},
"encoding":{"x":{"field":"d","type":"quantitative","scale":{"domain":[5.1,29.9],"nice":false,"zero":false},"axis":{"values":[7,14,21,28],"domain":false,"title":null}},"y":{"field":"h","type":"quantitative","scale":{"domain":[0,30],"nice":false},"axis":null}}},
{"data":{"name":"fit"},"transform":[{"filter":"datum.t=='Wt-F'&&datum.c=='GC'"}],"mark":{"type":"line","color":"#000","strokeWidth":1.6},
"encoding":{"x":{"field":"d","type":"quantitative","axis":{"values":[7,14,21,28],"domain":false,"title":null}},"y":{"field":"h","type":"quantitative","axis":null}}},
{"data":{"name":"eqs"},"transform":[{"filter":"datum.t=='Wt-F'&&datum.c=='GC'"}],"mark":{"type":"text","align":"left","baseline":"top","lineBreak":"\n","fontSize":10,"lineHeight":11.5,"color":"#222"},
"encoding":{"x":{"datum":5.15,"type":"quantitative","axis":{"values":[7,14,21,28],"domain":false,"title":null}},"y":{"datum":27.5,"type":"quantitative","axis":null},"text":{"field":"lab","type":"nominal"}}}]},
{"width":105.4,"height":118,
"layer":[
{"data":{"name":"pts"},"transform":[{"filter":"datum.t=='Wt-C'&&datum.c=='GC'"}],"mark":{"type":"point","size":16,"color":"#000","strokeWidth":0.6},
"encoding":{"x":{"field":"d","type":"quantitative","scale":{"domain":[5.1,29.9],"nice":false,"zero":false},"axis":{"values":[7,14,21,28],"domain":false,"title":"dpt","titleX":105.4,"titlePadding":10}},"y":{"field":"h","type":"quantitative","scale":{"domain":[0,30],"nice":false},"axis":null}}},
{"data":{"name":"fit"},"transform":[{"filter":"datum.t=='Wt-C'&&datum.c=='GC'"}],"mark":{"type":"line","color":"#000","strokeWidth":1.6},
"encoding":{"x":{"field":"d","type":"quantitative","axis":{"values":[7,14,21,28],"domain":false,"title":"dpt","titleX":105.4,"titlePadding":10}},"y":{"field":"h","type":"quantitative","axis":null}}},
{"data":{"name":"eqs"},"transform":[{"filter":"datum.t=='Wt-C'&&datum.c=='GC'"}],"mark":{"type":"text","align":"left","baseline":"top","lineBreak":"\n","fontSize":10,"lineHeight":11.5,"color":"#222"},
"encoding":{"x":{"datum":5.15,"type":"quantitative","axis":{"values":[7,14,21,28],"domain":false,"title":"dpt","titleX":105.4,"titlePadding":10}},"y":{"datum":27.5,"type":"quantitative","axis":null},"text":{"field":"lab","type":"nominal"}}}]},
{"width":105.4,"height":118,
"layer":[
{"data":{"name":"pts"},"transform":[{"filter":"datum.t=='Wt-FC'&&datum.c=='GC'"}],"mark":{"type":"point","size":16,"color":"#000","strokeWidth":0.6},
"encoding":{"x":{"field":"d","type":"quantitative","scale":{"domain":[5.1,29.9],"nice":false,"zero":false},"axis":{"values":[7,14,21,28],"domain":false,"title":null}},"y":{"field":"h","type":"quantitative","scale":{"domain":[0,30],"nice":false},"axis":null}}},
{"data":{"name":"fit"},"transform":[{"filter":"datum.t=='Wt-FC'&&datum.c=='GC'"}],"mark":{"type":"line","color":"#000","strokeWidth":1.6},
"encoding":{"x":{"field":"d","type":"quantitative","axis":{"values":[7,14,21,28],"domain":false,"title":null}},"y":{"field":"h","type":"quantitative","axis":null}}},
{"data":{"name":"eqs"},"transform":[{"filter":"datum.t=='Wt-FC'&&datum.c=='GC'"}],"mark":{"type":"text","align":"left","baseline":"top","lineBreak":"\n","fontSize":10,"lineHeight":11.5,"color":"#222"},
"encoding":{"x":{"datum":5.15,"type":"quantitative","axis":{"values":[7,14,21,28],"domain":false,"title":null}},"y":{"datum":27.5,"type":"quantitative","axis":null},"text":{"field":"lab","type":"nominal"}}}]},
{"width":105.4,"height":118,
"layer":[
{"data":{"name":"pts"},"transform":[{"filter":"datum.t=='R3-H'&&datum.c=='GC'"}],"mark":{"type":"point","size":16,"color":"#000","strokeWidth":0.6},
"encoding":{"x":{"field":"d","type":"quantitative","scale":{"domain":[5.1,29.9],"nice":false,"zero":false},"axis":{"values":[7,14,21,28],"domain":false,"title":null}},"y":{"field":"h","type":"quantitative","scale":{"domain":[0,30],"nice":false},"axis":null}}},
{"data":{"name":"fit"},"transform":[{"filter":"datum.t=='R3-H'&&datum.c=='GC'"}],"mark":{"type":"line","color":"#000","strokeWidth":1.6},
"encoding":{"x":{"field":"d","type":"quantitative","axis":{"values":[7,14,21,28],"domain":false,"title":null}},"y":{"field":"h","type":"quantitative","axis":null}}},
{"data":{"name":"eqs"},"transform":[{"filter":"datum.t=='R3-H'&&datum.c=='GC'"}],"mark":{"type":"text","align":"left","baseline":"top","lineBreak":"\n","fontSize":10,"lineHeight":11.5,"color":"#222"},
"encoding":{"x":{"datum":5.15,"type":"quantitative","axis":{"values":[7,14,21,28],"domain":false,"title":null}},"y":{"datum":27.5,"type":"quantitative","axis":null},"text":{"field":"lab","type":"nominal"}}}]},
{"width":105.4,"height":118,
"layer":[
{"data":{"name":"pts"},"transform":[{"filter":"datum.t=='R3-F'&&datum.c=='GC'"}],"mark":{"type":"point","size":16,"color":"#000","strokeWidth":0.6},
"encoding":{"x":{"field":"d","type":"quantitative","scale":{"domain":[5.1,29.9],"nice":false,"zero":false},"axis":{"values":[7,14,21,28],"domain":false,"title":null}},"y":{"field":"h","type":"quantitative","scale":{"domain":[0,30],"nice":false},"axis":null}}},
{"data":{"name":"fit"},"transform":[{"filter":"datum.t=='R3-F'&&datum.c=='GC'"}],"mark":{"type":"line","color":"#000","strokeWidth":1.6},
"encoding":{"x":{"field":"d","type":"quantitative","axis":{"values":[7,14,21,28],"domain":false,"title":null}},"y":{"field":"h","type":"quantitative","axis":null}}},
{"data":{"name":"eqs"},"transform":[{"filter":"datum.t=='R3-F'&&datum.c=='GC'"}],"mark":{"type":"text","align":"left","baseline":"top","lineBreak":"\n","fontSize":10,"lineHeight":11.5,"color":"#222"},
"encoding":{"x":{"datum":5.15,"type":"quantitative","axis":{"values":[7,14,21,28],"domain":false,"title":null}},"y":{"datum":27.5,"type":"quantitative","axis":null},"text":{"field":"lab","type":"nominal"}}}]},
{"width":12,"height":118,"view":{"fill":"#cccccc","stroke":null},"data":{"values":[{"c":"GC"}]},"mark":{"type":"text","fontSize":12.5,"angle":90,"color":"#1a1a1a","baseline":"middle"},"encoding":{"text":{"field":"c"}}}
]
},
{
"spacing":11,
"hconcat":[
{"width":193,"height":260,"title":{"text":"B","offset":4},"view":{"stroke":null},
"data":{"name":"bars"},"transform":[{"filter":"datum.m=='height'"}],
"encoding":{"x":{"field":"t","type":"nominal","sort":["Wt-H","Wt-F","Wt-C","Wt-FC","R3-H","R3-F"],"scale":{"paddingInner":0.456,"paddingOuter":0.32},"axis":{"title":"viral treatments","labelAngle":0,"labelFontSize":8.5,"titlePadding":3,"labelPadding":1.5}}},
"layer":[
{"mark":{"type":"bar","fill":"#555555","stroke":"#111","strokeWidth":1.2},"encoding":{"y":{"field":"v","type":"quantitative","scale":{"domain":[0,30],"nice":false},"axis":{"title":"height (cm)","values":[0,5,10,15,20,25,30]}}}},
{"mark":{"type":"rule","color":"#000","strokeWidth":1.5},"encoding":{"y":{"field":"lo","type":"quantitative","axis":{"title":"height (cm)","values":[0,5,10,15,20,25,30]}},"y2":{"field":"hi"}}},
{"mark":{"type":"tick","color":"#000","size":8,"thickness":1.5},"encoding":{"y":{"field":"lo","type":"quantitative","axis":{"title":"height (cm)","values":[0,5,10,15,20,25,30]}}}},
{"mark":{"type":"tick","color":"#000","size":8,"thickness":1.5},"encoding":{"y":{"field":"hi","type":"quantitative","axis":{"title":"height (cm)","values":[0,5,10,15,20,25,30]}}}},
{"mark":{"type":"text","baseline":"bottom","dy":-2,"fontSize":13,"color":"#000"},"encoding":{"y":{"field":"hi","type":"quantitative","axis":{"title":"height (cm)","values":[0,5,10,15,20,25,30]}},"text":{"field":"g"}}}
]},
{"spacing":18,"hconcat":[
{"width":178,"height":260,"title":{"text":"C","offset":4},"view":{"stroke":null},
"data":{"name":"bars"},"transform":[{"filter":"datum.m=='biomass'"}],
"encoding":{"x":{"field":"t","type":"nominal","sort":["Wt-H","Wt-F","Wt-C","Wt-FC","R3-H","R3-F"],"scale":{"paddingInner":0.456,"paddingOuter":0.32},"axis":{"title":"viral treatments","labelAngle":0,"labelFontSize":8.5,"titlePadding":3,"labelPadding":1.5}}},
"layer":[
{"mark":{"type":"bar","fill":"#555555","stroke":"#111","strokeWidth":1.2},"encoding":{"y":{"field":"v","type":"quantitative","scale":{"domain":[0,4.5],"nice":false},"axis":{"title":"biomass (g)","values":[0,0.75,1.5,2.25,3,3.75,4.5],"labelExpr":"datum.value==0?'0':format(datum.value,'.2f')"}}}},
{"mark":{"type":"rule","color":"#000","strokeWidth":1.5},"encoding":{"y":{"field":"lo","type":"quantitative","axis":{"title":"biomass (g)","values":[0,0.75,1.5,2.25,3,3.75,4.5],"labelExpr":"datum.value==0?'0':format(datum.value,'.2f')"}},"y2":{"field":"hi"}}},
{"mark":{"type":"tick","color":"#000","size":8,"thickness":1.5},"encoding":{"y":{"field":"lo","type":"quantitative","axis":{"title":"biomass (g)","values":[0,0.75,1.5,2.25,3,3.75,4.5],"labelExpr":"datum.value==0?'0':format(datum.value,'.2f')"}}}},
{"mark":{"type":"tick","color":"#000","size":8,"thickness":1.5},"encoding":{"y":{"field":"hi","type":"quantitative","axis":{"title":"biomass (g)","values":[0,0.75,1.5,2.25,3,3.75,4.5],"labelExpr":"datum.value==0?'0':format(datum.value,'.2f')"}}}},
{"mark":{"type":"text","baseline":"bottom","dy":-2,"fontSize":13,"color":"#000"},"encoding":{"y":{"field":"hi","type":"quantitative","axis":{"title":"biomass (g)","values":[0,0.75,1.5,2.25,3,3.75,4.5],"labelExpr":"datum.value==0?'0':format(datum.value,'.2f')"}},"text":{"field":"g"}}}
]},
{"width":185,"height":260,"title":{"text":"D","offset":4},"view":{"stroke":null},
"data":{"name":"bars"},"transform":[{"filter":"datum.m=='leaf'"}],
"encoding":{"x":{"field":"t","type":"nominal","sort":["Wt-H","Wt-F","Wt-C","Wt-FC","R3-H","R3-F"],"scale":{"paddingInner":0.456,"paddingOuter":0.32},"axis":{"title":"viral treatments","labelAngle":0,"labelFontSize":8.5,"titlePadding":3,"labelPadding":1.5}}},
"layer":[
{"mark":{"type":"bar","fill":"#555555","stroke":"#111","strokeWidth":1.2},"encoding":{"y":{"field":"v","type":"quantitative","scale":{"domain":[0,750],"nice":false},"axis":{"title":"leaf area (cm^2)","values":[0,150,300,450,600,750]}}}},
{"mark":{"type":"rule","color":"#000","strokeWidth":1.5},"encoding":{"y":{"field":"lo","type":"quantitative","axis":{"title":"leaf area (cm^2)","values":[0,150,300,450,600,750]}},"y2":{"field":"hi"}}},
{"mark":{"type":"tick","color":"#000","size":8,"thickness":1.5},"encoding":{"y":{"field":"lo","type":"quantitative","axis":{"title":"leaf area (cm^2)","values":[0,150,300,450,600,750]}}}},
{"mark":{"type":"tick","color":"#000","size":8,"thickness":1.5},"encoding":{"y":{"field":"hi","type":"quantitative","axis":{"title":"leaf area (cm^2)","values":[0,150,300,450,600,750]}}}},
{"mark":{"type":"text","baseline":"bottom","dy":-2,"fontSize":13,"color":"#000"},"encoding":{"y":{"field":"hi","type":"quantitative","axis":{"title":"leaf area (cm^2)","values":[0,150,300,450,600,750]}},"text":{"field":"g"}}}
]}
]}
]
}
],
"spacing":3
}
